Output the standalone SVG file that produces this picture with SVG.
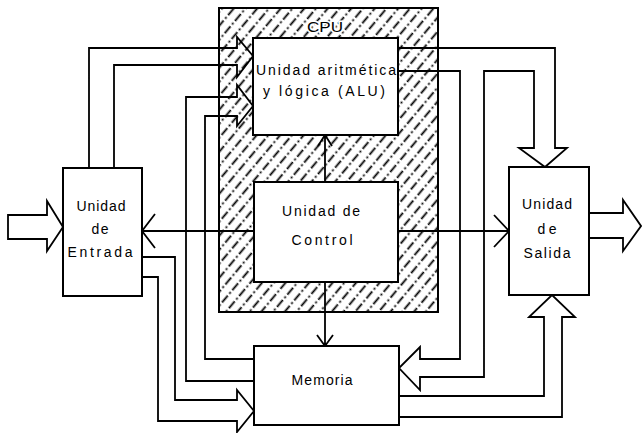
<svg xmlns="http://www.w3.org/2000/svg" width="642" height="433" viewBox="0 0 642 433">
<style>
.box{fill:#fff;stroke:#000;stroke-width:2}
.ln{fill:none;stroke:#000;stroke-width:1.8;stroke-linejoin:miter}
.t{font-family:"Liberation Sans",Arial,sans-serif;font-size:14px;text-anchor:middle;fill:#000}
</style>
<defs>
<pattern id="hatch" patternUnits="userSpaceOnUse" width="9" height="16" patternTransform="rotate(40)">
<line x1="4.5" y1="0" x2="4.5" y2="16" stroke="#000" stroke-width="1.8" stroke-dasharray="9 2.5 2 2.5"/>
</pattern>
</defs>
<rect width="642" height="433" fill="#fff"/>
<g id="cpu">
<rect x="219" y="8" width="219" height="304" fill="url(#hatch)" stroke="#000" stroke-width="2"/>
<text class="t" x="325" y="32" font-size="15" textLength="36" lengthAdjust="spacingAndGlyphs" stroke="#fff" stroke-width="3" paint-order="stroke">CPU</text>
</g>
<g id="connectors">
<path class="ln" d="M89,168 V48 H237 V37 L253,56 L237,77 V65 H114 V168"/>
<path class="ln" d="M254,381 H186 V97 H237 V85 L253,106 L237,126 V116 H205 V359 H254"/>
<path class="ln" d="M398,48 H555 V148 H567 L545,167 L519,148 H534 V71 H484 V377 H420 V390 L399,368 L420,347 V359 H460 V71 H398"/>
<path class="ln" d="M399,396 H544 V317 H529 L552,295 L575,317 H562 V417 H399"/>
<path class="ln" d="M142,257 H175 V400 H237 V390 L254,411 L237,432 V421 H158 V277 H142"/>
<path class="ln" d="M325,182 V135 M318,146 L325,135 L332,146"/>
<path class="ln" d="M325,282 V346 M317,335 L325,346 L333,335"/>
<path class="ln" d="M254,231 H142 M155,214 L142,231 L155,248"/>
<path class="ln" d="M398,231 H509 M494,215 L509,231 L494,247"/>
<path class="ln" d="M47,215 H8 V239 H47 V251 L63,227 L47,201 Z"/>
<path class="ln" d="M589,213 H623 V200 L641,226 L623,251 V238 H589"/>
</g>
<g id="alu">
<rect class="box" x="253" y="38" width="145" height="97"/>
<text class="t" x="326" y="75" textLength="140">Unidad aritmética</text>
<text class="t" x="324" y="96" textLength="122">y lógica (ALU)</text>
</g>
<g id="control">
<rect class="box" x="254" y="182" width="144" height="100"/>
<text class="t" x="321" y="216" textLength="78">Unidad de</text>
<text class="t" x="322" y="245" textLength="61">Control</text>
</g>
<g id="entrada">
<rect class="box" x="63" y="168" width="79" height="128"/>
<text class="t" x="101" y="211" textLength="49">Unidad</text>
<text class="t" x="100" y="234" textLength="17">de</text>
<text class="t" x="100" y="257" textLength="65">Entrada</text>
</g>
<g id="salida">
<rect class="box" x="509" y="167" width="80" height="128"/>
<text class="t" x="547" y="209" textLength="50">Unidad</text>
<text class="t" x="547" y="234" textLength="19">de</text>
<text class="t" x="547" y="258" textLength="47">Salida</text>
</g>
<g id="memoria">
<rect class="box" x="254" y="346" width="145" height="79"/>
<text class="t" x="322" y="385" textLength="61">Memoria</text>
</g>
</svg>
